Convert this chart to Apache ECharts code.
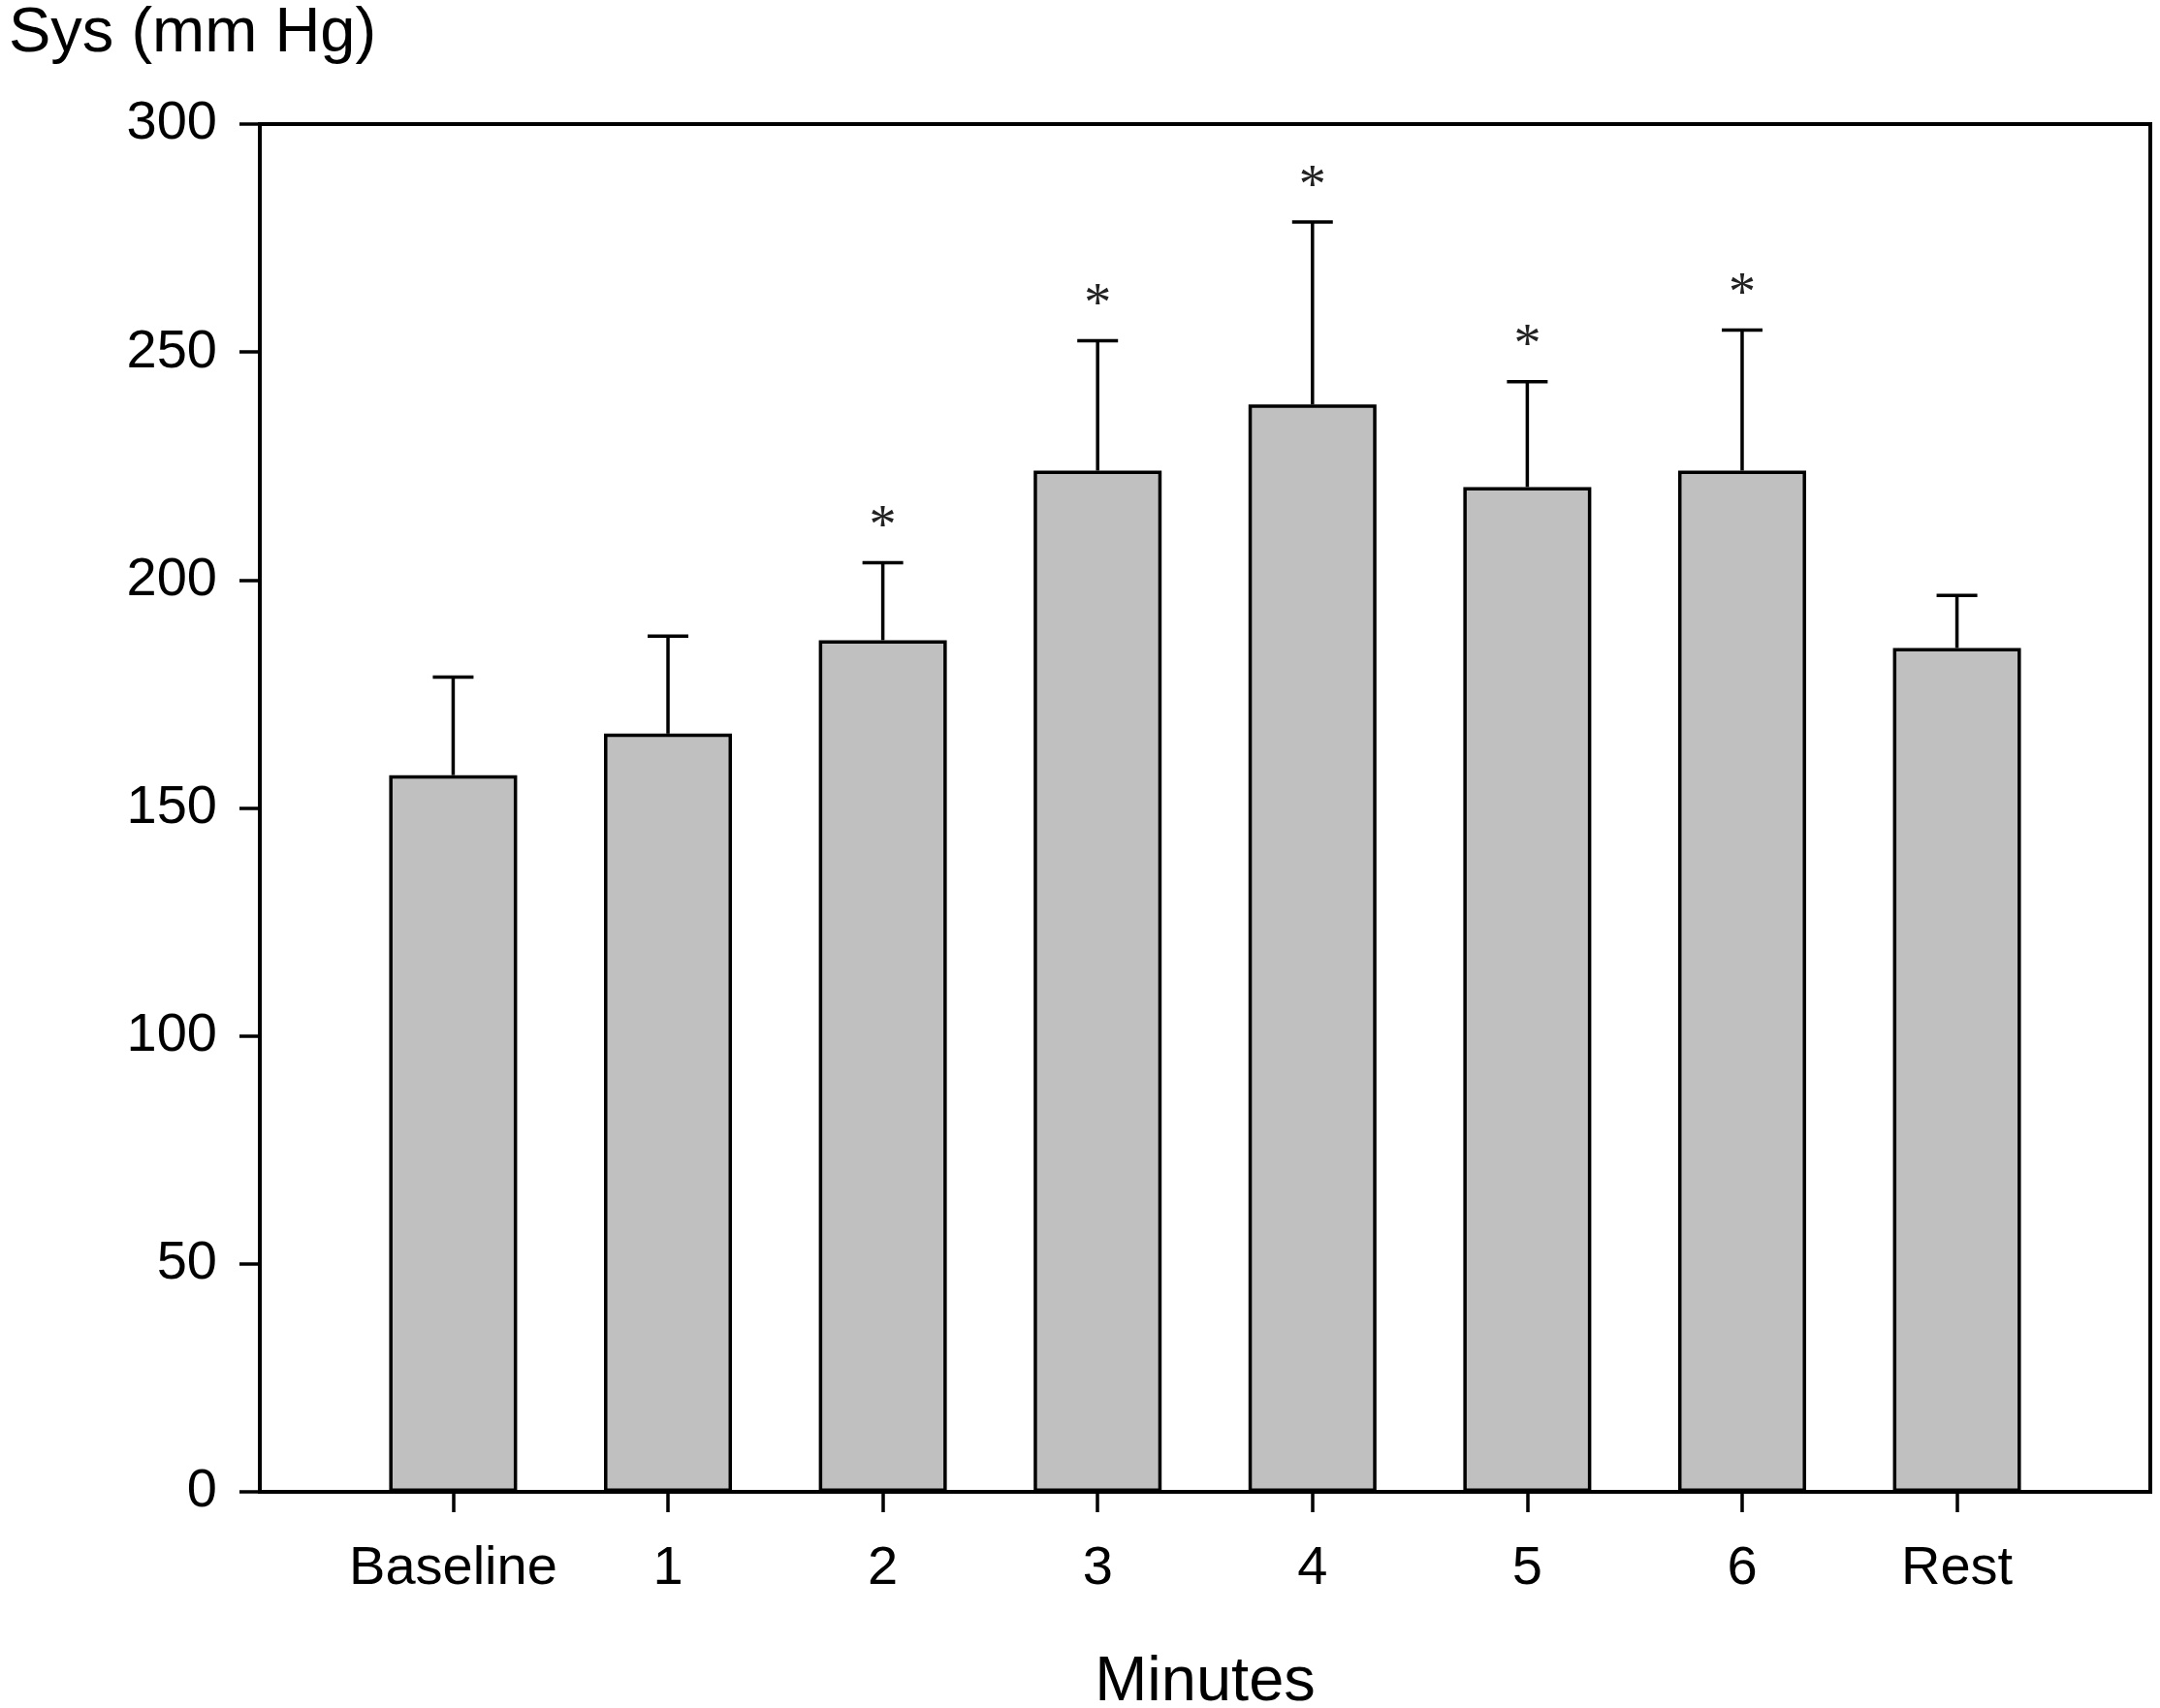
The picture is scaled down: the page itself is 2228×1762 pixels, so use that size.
<!DOCTYPE html>
<html>
<head>
<meta charset="utf-8">
<script src="https://cdn.jsdelivr.net/npm/echarts@6/dist/echarts.min.js"></script>
<style>
  html, body { margin: 0; padding: 0; background: #fff; }
  #chart { width: 2228px; height: 1762px; }
</style>
</head>
<body>
<div id="chart"></div>
<script>
// data
const categories = ['Baseline', '1', '2', '3', '4', '5', '6', 'Rest']
const sysMean = [157.2, 166.3, 186.8, 224.0, 238.5, 220.4, 224.0, 185.1]
const sysUpper = [178.7, 187.7, 203.8, 252.5, 278.5, 243.5, 254.8, 196.6] // mean + SD
const significant = [false, false, true, true, true, true, true, false]
const yMin = 0
const yMax = 300
const yStep = 50

const FONT = '"Liberation Sans", Arial, sans-serif'
const catIdx = categories.map((c, i) => i)

const chart = echarts.init(document.getElementById('chart'))

const renderError = (params, api) => {
  const i = api.value(0)
  const top = api.coord([i, api.value(2)])
  const base = api.coord([i, api.value(1)])
  const style = { stroke: '#000', lineWidth: 3.5 }
  return {
    type: 'group',
    children: [
      { type: 'line', shape: { x1: base[0], y1: base[1], x2: top[0], y2: top[1] }, style },
      { type: 'line', shape: { x1: top[0] - 21, y1: top[1], x2: top[0] + 21, y2: top[1] }, style }
    ]
  }
}

const renderStar = (params, api) => {
  const p = api.coord([api.value(0), api.value(1)])
  return {
    type: 'text',
    x: p[0],
    y: p[1] - 35,
    style: {
      text: '*',
      fill: '#222',
      font: '56px "Liberation Serif", "Times New Roman", serif',
      align: 'center',
      verticalAlign: 'middle'
    }
  }
}

const option = {
  backgroundColor: '#fff',
  animation: false,
  title: {
    text: 'Sys (mm Hg)',
    left: 4,
    top: -2,
    textStyle: { fontFamily: FONT, fontSize: 65, fontWeight: 'normal', color: '#000' }
  },
  grid: {
    left: 268,
    right: 10,
    top: 128,
    bottom: 223,
    outerBoundsMode: 'none',
    containLabel: false,
    show: true,
    borderColor: '#000',
    borderWidth: 4
  },
  xAxis: {
    type: 'value',
    min: -0.9,
    max: 7.9,
    splitLine: { show: false },
    axisLine: { show: true, onZero: false, lineStyle: { color: '#000', width: 4 } },
    axisTick: { show: true, customValues: catIdx, length: 21, lineStyle: { color: '#000', width: 3.5 } },
    axisLabel: {
      customValues: catIdx,
      formatter: v => categories[Math.round(v)],
      fontFamily: FONT,
      fontSize: 56,
      color: '#000',
      margin: 52
    },
    name: 'Minutes',
    nameLocation: 'middle',
    nameGap: 165,
    nameTextStyle: { fontFamily: FONT, fontSize: 65, color: '#000' }
  },
  yAxis: {
    type: 'value',
    min: yMin,
    max: yMax,
    interval: yStep,
    splitLine: { show: false },
    axisLine: { show: true, onZero: false, lineStyle: { color: '#000', width: 4 } },
    axisTick: { show: true, length: 21, lineStyle: { color: '#000', width: 3.5 } },
    axisLabel: { fontFamily: FONT, fontSize: 56, color: '#000', margin: 44 }
  },
  series: [
    {
      type: 'bar',
      barWidth: 132,
      data: sysMean.map((v, i) => [i, v]),
      itemStyle: { color: '#c0c0c0', borderColor: '#000', borderWidth: 3.5 },
      z: 2
    },
    {
      type: 'custom',
      renderItem: renderError,
      encode: { x: 0, y: 2 },
      data: sysMean.map((v, i) => [i, v, sysUpper[i]]),
      z: 3
    },
    {
      type: 'custom',
      renderItem: renderStar,
      encode: { x: 0, y: 1 },
      data: catIdx.filter(i => significant[i]).map(i => [i, sysUpper[i]]),
      z: 3
    }
  ]
}

chart.setOption(option)
</script>
</body>
</html>
